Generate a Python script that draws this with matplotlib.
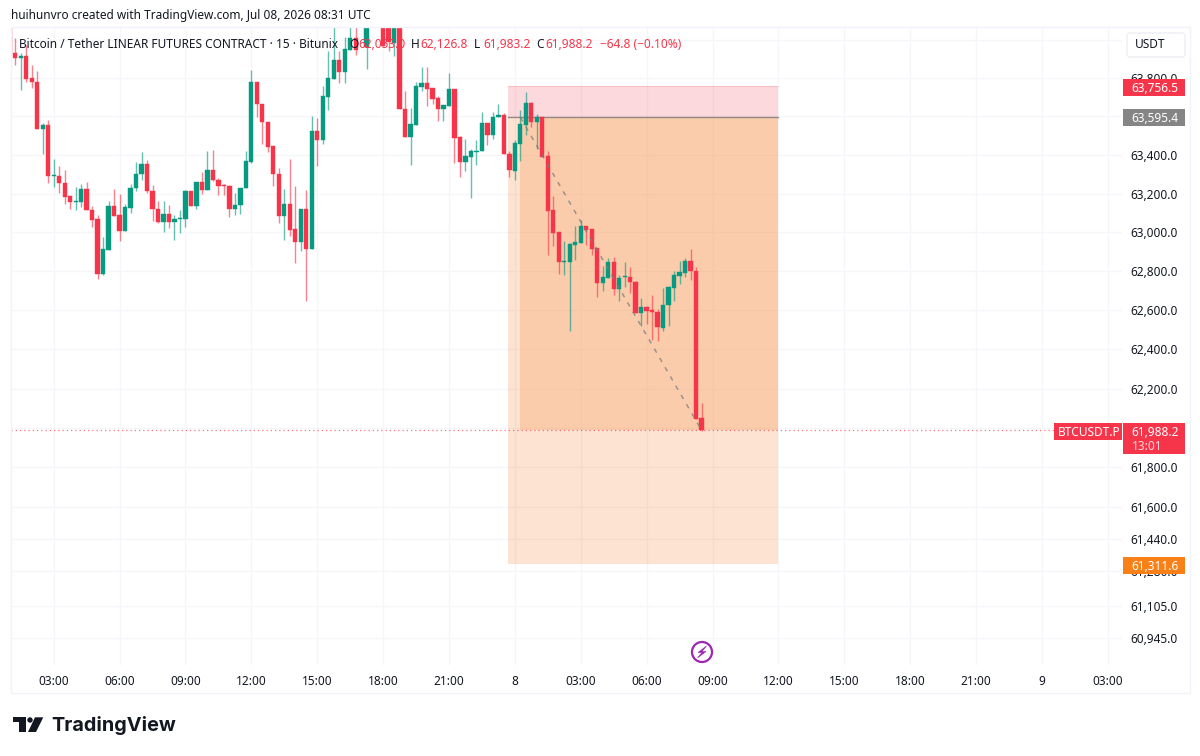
import numpy as np
import matplotlib
matplotlib.use("Agg")
import matplotlib.pyplot as plt
from matplotlib.patches import Rectangle, Circle, Polygon, FancyBboxPatch
from matplotlib.ticker import NullLocator

plt.rcParams['font.family'] = ['Noto Sans', 'DejaVu Sans']

# 15-minute candles, first bar index is -8 (bar 0 = 03:00 on 7 Jul)
first_bar = -8
opens = [64100,63930,63906,63913,63799,63782,63534,63558,63289,63293,63255,63185,63157,63157,63226,63117,63068,62788,62910,63134,63089,63007,63128,63228,63299,63355,63214,63122,63055,63094,63053,63070,63070,63211,63136,63260,63219,63323,63272,63245,63241,63119,63140,63228,63364,63780,63667,63573,63445,63303,63085,63146,63017,62951,63122,62913,63527,63476,63701,63797,63893,63833,63947,64010,64130,63964,64160,64090,64130,64090,63981,64110,63638,63491,63558,63755,63777,63746,63695,63638,63655,63741,63491,63366,63391,63417,63420,63565,63502,63595,63610,63405,63318,63458,63558,63670,63570,63595,63395,63114,63001,62849,62849,62934,62946,63034,63017,62917,62737,62766,62846,62708,62768,62771,62747,62588,62615,62599,62591,62511,62625,62712,62774,62793,62854,62803,62050]
closes = [63930,63906,63915,63797,63780,63534,63558,63291,63294,63253,63182,63157,63160,63226,63116,63065,62788,62913,63134,63085,63007,63129,63231,63303,63355,63211,63119,63055,63094,63053,63068,63073,63211,63136,63262,63219,63323,63270,63240,63240,63119,63143,63231,63369,63780,63663,63571,63442,63299,63085,63146,63014,62951,63122,62913,63527,63476,63704,63799,63893,63833,63950,64010,63947,64070,64120,64110,64140,63967,63991,64130,63638,63491,63561,63758,63777,63743,63692,63638,63658,63741,63488,63366,63393,63420,63423,63565,63502,63599,63610,63403,63321,63460,63562,63670,63570,63595,63390,63109,62997,62846,62854,62939,62951,63034,63012,62914,62737,62771,62846,62708,62766,62773,62744,62588,62615,62596,62589,62513,62628,62717,62779,62797,62854,62800,62047,61988.2]
highs = [64120,64010,63930,63973,63867,63837,63565,63582,63381,63344,63323,63185,63235,63250,63259,63134,63089,62975,63160,63225,63196,63148,63250,63364,63415,63372,63242,63160,63160,63143,63089,63114,63216,63211,63262,63310,63420,63425,63279,63252,63245,63202,63231,63420,63842,63780,63667,63573,63445,63335,63225,63381,63238,63122,63216,63602,63593,63760,63942,64100,63942,64015,64090,64090,64160,64150,64190,64170,64150,64120,64170,64130,63733,63644,63780,63859,63859,63746,63704,63658,63825,63741,63497,63485,63432,63476,63624,63565,63624,63665,63616,63420,63476,63636,63726,63675,63613,63595,63420,63186,63001,62955,62945,63034,63063,63034,63017,62917,62829,62868,62871,62781,62849,62822,62752,62660,62623,62679,62608,62715,62723,62800,62851,62868,62914,62820,62126.8]
lows = [63930,63870,63738,63782,63746,63534,63403,63253,63233,63202,63148,63119,63116,63131,63114,63029,62760,62779,62910,63085,62953,63007,63102,63213,63270,63204,63060,63049,63002,63024,62958,62998,63029,63136,63119,63197,63219,63267,63191,63191,63077,63089,63097,63228,63360,63599,63457,63417,63240,63049,62961,62981,62842,62902,62647,62913,63344,63457,63632,63797,63775,63772,63947,63922,64070,63850,64090,64070,63967,63940,63915,63638,63491,63349,63558,63735,63655,63667,63578,63578,63655,63360,63284,63318,63177,63350,63420,63454,63485,63595,63403,63284,63271,63369,63506,63544,63429,63390,62885,62932,62786,62779,62494,62859,62946,62937,62885,62666,62700,62766,62677,62645,62717,62686,62588,62519,62531,62448,62443,62494,62519,62647,62733,62771,62754,62047,61983.2]

# axis labels
time_ticks = [0,12,24,36,48,60,72,84,96,108,120,132,144,156,168,180,192]
time_labels = ['03:00','06:00','09:00','12:00','15:00','18:00','21:00','8','03:00','06:00','09:00','12:00','15:00','18:00','21:00','9','03:00']
price_ticks = [64000,63800,63600,63400,63200,63000,62800,62600,62400,62200,62000,61800,61600,61440,61280,61105,60945]
covered_ticks = [64000,63600,62000]

# short position tool
stop_price = 63756.5
entry_price = 63595.4
target_price = 61311.6
last_price = 61988.2
pos_left, pos_entry_bar, pos_last_bar, pos_right = 82.75, 85.0, 118.0, 132.0

RED, GREEN, ORANGE_FILL = '#F6354A', '#089981', '#F57319'
GRID, TXT = '#F5F6F9', '#131722'
FS = 8.55

fig = plt.figure(figsize=(12, 7.56), dpi=100, facecolor='white')
L, R, T, B = 11, 1122, 28, 665
ax = fig.add_axes([L/1200, (756-B)/756, (R-L)/1200, (B-T)/756])
ax.set_yscale('log')
ax.set_xlim((L-53.7)/5.49, (R-53.7)/5.49)
ax.set_ylim(60809, 64062)
for s in ax.spines.values():
    s.set_visible(False)
ax.set_yticks(price_ticks)
ax.set_yticklabels(['' if p in covered_ticks else f'{p:,.1f}' for p in price_ticks],
                   fontsize=FS, color=TXT, ha='left')
ax.yaxis.set_minor_locator(NullLocator())
ax.yaxis.tick_right()
ax.tick_params(axis='y', which='both', length=0, pad=6.2)
ax.set_xticks(time_ticks)
ax.set_xticklabels(time_labels, fontsize=FS, color=TXT)
ax.tick_params(axis='x', length=0, pad=7)
for lab, txt in zip(ax.get_xticklabels(), time_labels):
    if len(txt) == 1:
        lab.set_fontweight('bold')
ax.grid(True, color=GRID, lw=0.9, zorder=0)
ax.set_axisbelow(True)

# position tool
ax.add_patch(Rectangle((pos_left, entry_price), pos_right-pos_left, stop_price-entry_price,
                       facecolor=(0.95, 0.21, 0.27, 0.19), edgecolor='none', zorder=1))
ax.add_patch(Rectangle((pos_left, target_price), pos_right-pos_left, entry_price-target_price,
                       facecolor=ORANGE_FILL, alpha=0.2, edgecolor='none', zorder=1))
ax.add_patch(Rectangle((pos_entry_bar, last_price), pos_right-pos_entry_bar, entry_price-last_price,
                       facecolor=ORANGE_FILL, alpha=0.2, edgecolor='none', zorder=1))
ax.plot([pos_left, pos_right], [stop_price]*2, color=RED, alpha=0.15, lw=0.8, zorder=1.5)
ax.plot([pos_left, pos_right], [entry_price]*2, color='#777777', lw=1.0, alpha=0.8, zorder=1.5)

# candles
bars = np.arange(first_bar, first_bar+len(opens))
o, h, l, c = map(np.array, (opens, highs, lows, closes))
colors = np.where(c >= o, GREEN, RED)
ax.vlines(bars, l, h, colors=colors, lw=1.0, alpha=0.62, zorder=3)
ax.bar(bars, np.abs(c-o), bottom=np.minimum(o, c), width=0.78, color=colors,
       edgecolor=colors, linewidth=0.3, zorder=4)

# dashed trade line and last price line
ax.plot([pos_entry_bar, pos_last_bar], [entry_price, last_price], color='#7d7d7d', lw=1.1,
        alpha=0.75, dashes=(3, 4), zorder=5)
ax.hlines(last_price, ax.get_xlim()[0], (1054-53.7)/5.49, color=RED, lw=0.9,
          linestyles=(0, (1, 2.4)), alpha=0.7, zorder=5)

# overlay in pixel coordinates for frame, legend, labels
ov = fig.add_axes([0, 0, 1, 1], facecolor='none', zorder=10)
ov.set_xlim(0, 1200)
ov.set_ylim(756, 0)
ov.axis('off')
frame = '#F0F3FA'
ov.plot([11, 1190, 1190, 11, 11], [27, 27, 693, 693, 27], color=frame, lw=1)

ov.text(11, 16, 'huihunvro created with TradingView.com, Jul 08, 2026 08:31 UTC',
        fontsize=FS, color=TXT, va='center', ha='left')
ov.text(19, 44, 'Bitcoin / Tether LINEAR FUTURES CONTRACT · 15 · Bitunix', fontsize=FS, color=TXT, va='center')
legend_parts = [('O', '62,053.0', 349), ('H', '62,126.8', 411), ('L', '61,983.2', 474), ('C', '61,988.2', 536)]
for k, v, x in legend_parts:
    ov.text(x, 44, k, fontsize=FS, color=TXT, va='center')
    ov.text(x+9, 44, v, fontsize=FS, color=RED, va='center')
ov.text(600, 44, '−64.8 (−0.10%)', fontsize=FS, color=RED, va='center')

# USDT button
ov.add_patch(FancyBboxPatch((1127, 33), 58, 24, boxstyle='round,pad=0,rounding_size=3',
                            facecolor='white', edgecolor='#EDEFF3', lw=1))
ov.text(1135, 45, 'USDT', fontsize=FS, color=TXT, va='center')

def tag(x0, x1, y0, y1, color, text, tx):
    ov.add_patch(Rectangle((x0, y0), x1-x0, y1-y0, facecolor=color, edgecolor='none'))
    ov.text(tx, (y0+9), text, fontsize=FS, color='white', va='center')

tag(1123, 1185, 79, 96, RED, f'{stop_price:,.1f}', 1131)
tag(1123, 1185, 109, 126, '#858585', f'{entry_price:,.1f}', 1131)
tag(1123, 1185, 423, 454, RED, f'{last_price:,.1f}', 1131)
ov.text(1132, 446, '13:01', fontsize=FS, color='#FFD5D9', va='center')
tag(1054, 1122, 423, 440, RED, 'BTCUSDT.P', 1058)
tag(1123, 1185, 557, 574, '#F97F17', f'{target_price:,.1f}', 1131)

# bolt marker
ov.add_patch(Circle((702, 652), 10, facecolor='white', edgecolor='#9C27B0', lw=1.6))
ov.add_patch(Polygon([(706.5, 646), (698, 652.5), (702, 652.5), (697.5, 658), (706, 651.5), (702, 651.5)],
                     closed=True, facecolor='#9C27B0', edgecolor='#9C27B0', lw=0.4))

# logo
logo = '#131722'
ov.add_patch(Polygon([(12.7, 717.3), (26, 717.3), (26, 732), (19, 732), (19, 722.3), (12.7, 722.3)], closed=True, facecolor=logo, edgecolor='none'))
ov.add_patch(Circle((30, 720), 2.7, facecolor=logo, edgecolor='none'))
ov.add_patch(Polygon([(35, 717.3), (43.3, 717.3), (36, 732), (28, 732)], closed=True, facecolor=logo, edgecolor='none'))
ov.text(51, 725.5, 'TradingView', fontsize=14.3, family='Inter', fontweight='bold', color=logo, va='center', ha='left')

fig.savefig('out.png', dpi=100, facecolor='white')
